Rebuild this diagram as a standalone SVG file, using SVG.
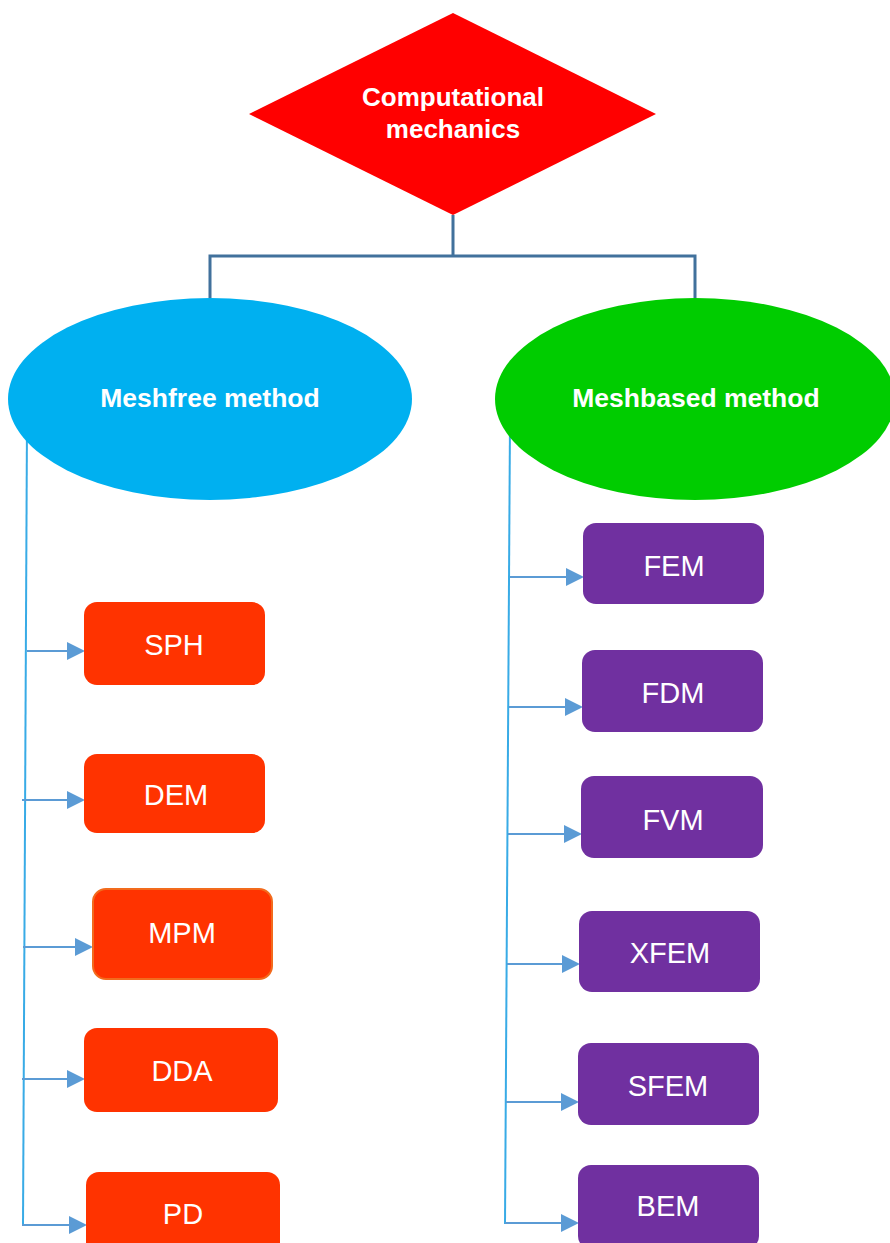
<svg xmlns="http://www.w3.org/2000/svg" width="890" height="1243" viewBox="0 0 890 1243">
  <defs>
    <marker id="arrowHead" viewBox="0 0 10 10" refX="10" refY="5" markerWidth="9" markerHeight="9" markerUnits="userSpaceOnUse" orient="auto">
      <path d="M0,0 L10,5 L0,10 Z" fill="#5B9BD5"/>
    </marker>
  </defs>
  <style>
    .title { font-family: "Liberation Sans", Arial, sans-serif; font-weight: bold; fill: #FFFFFF; text-anchor: middle; }
    .label { font-family: "Liberation Sans", Arial, sans-serif; font-size: 29px; fill: #FFFFFF; text-anchor: middle; }
    .free { fill: #FF3300; }
    .based { fill: #7030A0; }
    .tree { fill: none; stroke: #41719C; stroke-width: 3; }
    .trunk { fill: none; stroke: #38ABE6; stroke-width: 2; }
    .branch { fill: none; stroke: #5B9BD5; stroke-width: 2; }
    .branch-end { fill: #5B9BD5; }
  </style>
  <rect width="890" height="1243" fill="#FFFFFF"/>

  <!-- connectors -->
  <g id="connectors">
    <path class="tree" d="M453,215 V256 M210,298 V256 H695 V298"/>
    <line class="trunk" x1="27" y1="420" x2="23" y2="1226"/>
    <line class="trunk" x1="510" y1="420" x2="505" y2="1224"/>
    <!-- meshfree branches -->
    <path class="branch" d="M27,651 H70"/><polygon class="branch-end" points="67,642 85,651 67,660"/>
    <path class="branch" d="M22,800 H70"/><polygon class="branch-end" points="67,791 85,800 67,809"/>
    <path class="branch" d="M23,947 H78"/><polygon class="branch-end" points="75,938 93,947 75,956"/>
    <path class="branch" d="M22,1079 H70"/><polygon class="branch-end" points="67,1070 85,1079 67,1088"/>
    <path class="branch" d="M22,1225 H72"/><polygon class="branch-end" points="69,1216 87,1225 69,1234"/>
    <!-- meshbased branches -->
    <path class="branch" d="M510,577 H568"/><polygon class="branch-end" points="566,568 584,577 566,586"/>
    <path class="branch" d="M509,707 H567"/><polygon class="branch-end" points="565,698 583,707 565,716"/>
    <path class="branch" d="M508,834 H566"/><polygon class="branch-end" points="564,825 582,834 564,843"/>
    <path class="branch" d="M507,964 H564"/><polygon class="branch-end" points="562,955 580,964 562,973"/>
    <path class="branch" d="M506,1102 H563"/><polygon class="branch-end" points="561,1093 579,1102 561,1111"/>
    <path class="branch" d="M505,1223 H563"/><polygon class="branch-end" points="561,1214 579,1223 561,1232"/>
  </g>

  <!-- root -->
  <g id="node-computational-mechanics">
    <polygon points="453,13 656,114 453,215 249,114" fill="#FF0000"/>
    <text class="title" x="453" y="106" font-size="26">Computational</text>
    <text class="title" x="453" y="138" font-size="26">mechanics</text>
  </g>

  <!-- categories -->
  <g id="node-meshfree">
    <ellipse cx="210" cy="399" rx="202" ry="101" fill="#00B0F0"/>
    <text class="title" x="210" y="407" font-size="26.5">Meshfree method</text>
  </g>
  <g id="node-meshbased">
    <ellipse cx="695" cy="399" rx="200" ry="101" fill="#00CC00"/>
    <text class="title" x="696" y="407" font-size="26.5">Meshbased method</text>
  </g>

  <!-- meshfree methods -->
  <g id="node-sph">
    <rect class="free" x="84" y="602" width="181" height="83" rx="13"/>
    <text class="label" x="174" y="655">SPH</text>
  </g>
  <g id="node-dem">
    <rect class="free" x="84" y="754" width="181" height="79" rx="13"/>
    <text class="label" x="176" y="805">DEM</text>
  </g>
  <g id="node-mpm">
    <rect class="free" x="93" y="889" width="179" height="90" rx="13" stroke="#F26B1D" stroke-width="2"/>
    <text class="label" x="182" y="943">MPM</text>
  </g>
  <g id="node-dda">
    <rect class="free" x="84" y="1028" width="194" height="84" rx="13"/>
    <text class="label" x="182" y="1081">DDA</text>
  </g>
  <g id="node-pd">
    <rect class="free" x="86" y="1172" width="194" height="84" rx="13"/>
    <text class="label" x="183" y="1224">PD</text>
  </g>

  <!-- meshbased methods -->
  <g id="node-fem">
    <rect class="based" x="583" y="523" width="181" height="81" rx="13"/>
    <text class="label" x="674" y="576">FEM</text>
  </g>
  <g id="node-fdm">
    <rect class="based" x="582" y="650" width="181" height="82" rx="13"/>
    <text class="label" x="673" y="703">FDM</text>
  </g>
  <g id="node-fvm">
    <rect class="based" x="581" y="776" width="182" height="82" rx="13"/>
    <text class="label" x="673" y="830">FVM</text>
  </g>
  <g id="node-xfem">
    <rect class="based" x="579" y="911" width="181" height="81" rx="13"/>
    <text class="label" x="670" y="963">XFEM</text>
  </g>
  <g id="node-sfem">
    <rect class="based" x="578" y="1043" width="181" height="82" rx="13"/>
    <text class="label" x="668" y="1096">SFEM</text>
  </g>
  <g id="node-bem">
    <rect class="based" x="578" y="1165" width="181" height="84" rx="13"/>
    <text class="label" x="668" y="1216">BEM</text>
  </g>
</svg>
